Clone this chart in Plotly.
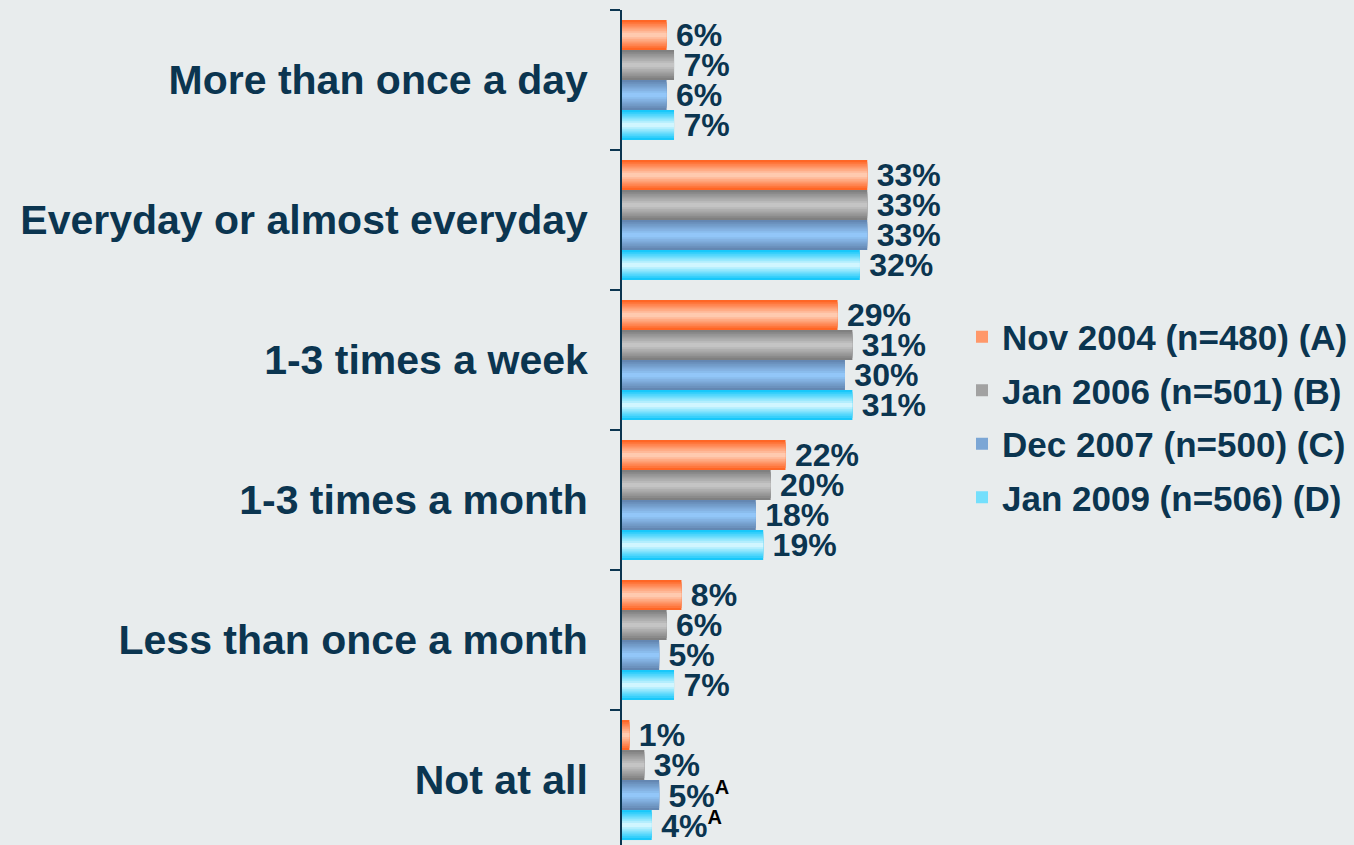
import plotly.graph_objects as go

categories = ["More than once a day", "Everyday or almost everyday", "1-3 times a week",
              "1-3 times a month", "Less than once a month", "Not at all"]
series_names = ["Nov 2004 (n=480) (A)", "Jan 2006 (n=501) (B)",
                "Dec 2007 (n=500) (C)", "Jan 2009 (n=506) (D)"]
nov2004 = [6, 33, 29, 22, 8, 1]
jan2006 = [7, 33, 31, 20, 6, 3]
dec2007 = [6, 33, 30, 18, 5, 5]
jan2009 = [7, 32, 31, 19, 7, 4]
sig_nov2004 = [""] * 6
sig_jan2006 = [""] * 6
sig_dec2007 = ["", "", "", "", "", "A"]
sig_jan2009 = ["", "", "", "", "", "A"]

values = [nov2004, jan2006, dec2007, jan2009]
sigs = [sig_nov2004, sig_jan2006, sig_dec2007, sig_jan2009]

# gradient colours: (edge, centre)
grads = [((255, 102, 38), (255, 202, 175)),
         ((128, 128, 128), (196, 196, 196)),
         ((100, 135, 178), (146, 198, 248)),
         ((25, 200, 250), (208, 246, 255))]

NAVY = "#0b3550"
BG = "#e8eced"
FONT = "Liberation Sans, Arial, sans-serif"

pos = list(range(len(categories)))
slot = 0.2143
group = slot * 4
N = 7

def mix(a, b, t):
    return "rgb(%d,%d,%d)" % tuple(round(a[i] + (b[i] - a[i]) * t) for i in range(3))

fig = go.Figure()
for i, (name, vals, sg) in enumerate(zip(series_names, values, sigs)):
    base_off = -group / 2 + i * slot
    edge, centre = grads[i]
    labels = []
    for v, s in zip(vals, sg):
        t = f"\u2009{v}%"
        if s:
            t += f"<sup><span style='color:#000000;font-size:20px'>{s}</span></sup>"
        labels.append(t)
    for k in range(N):
        frac = 1 - k / N
        w = slot * frac
        off = base_off + (slot - w) / 2
        col = mix(edge, centre, k / (N - 1))
        fig.add_trace(go.Bar(
            y=pos, x=vals, orientation="h",
            width=[w] * len(vals), offset=[off] * len(vals),
            marker=dict(color=col, line=dict(width=0)),
            name=name,
            legendgroup=name,
            showlegend=(k == 3),
            legendrank=i + 1,
            text=labels if k == 0 else None,
            textposition="outside" if k == 0 else "none",
            textfont=dict(family=FONT, size=32, color=NAVY, weight="bold"),
            constraintext="none",
            cliponaxis=False,
            hoverinfo="skip" if k else "x+y",
        ))

fig.update_layout(
    width=1354, height=845,
    barmode="overlay",
    paper_bgcolor=BG, plot_bgcolor=BG,
    margin=dict(l=622, r=405, t=10, b=0),
    font=dict(family=FONT, color=NAVY),
    legend=dict(
        x=962 / 1354, y=1 - 417 / 845, xref="container", yref="container",
        xanchor="left", yanchor="middle",
        font=dict(family=FONT, size=35, color=NAVY, weight="bold"),
        bgcolor="rgba(0,0,0,0)", itemclick=False, itemdoubleclick=False,
        tracegroupgap=5,
    ),
    xaxis=dict(visible=False, range=[0, 44]),
    yaxis=dict(
        range=[5.464, -0.5], tickvals=pos, ticktext=categories,
        ticks="", showgrid=False, zeroline=False,
        showline=True, linecolor=NAVY, linewidth=2,
        tickfont=dict(family=FONT, size=41, color=NAVY, weight="bold"),
        ticklabelstandoff=24,
        minor=dict(tickvals=[-0.5, 0.5, 1.5, 2.5, 3.5, 4.5], ticks="outside",
                   ticklen=10, tickwidth=2, tickcolor=NAVY, showgrid=False),
    ),
)

fig.write_html("out.html", config={"displayModeBar": False},
               post_script="document.body.style.margin='0';document.body.style.background='%s';" % BG)
